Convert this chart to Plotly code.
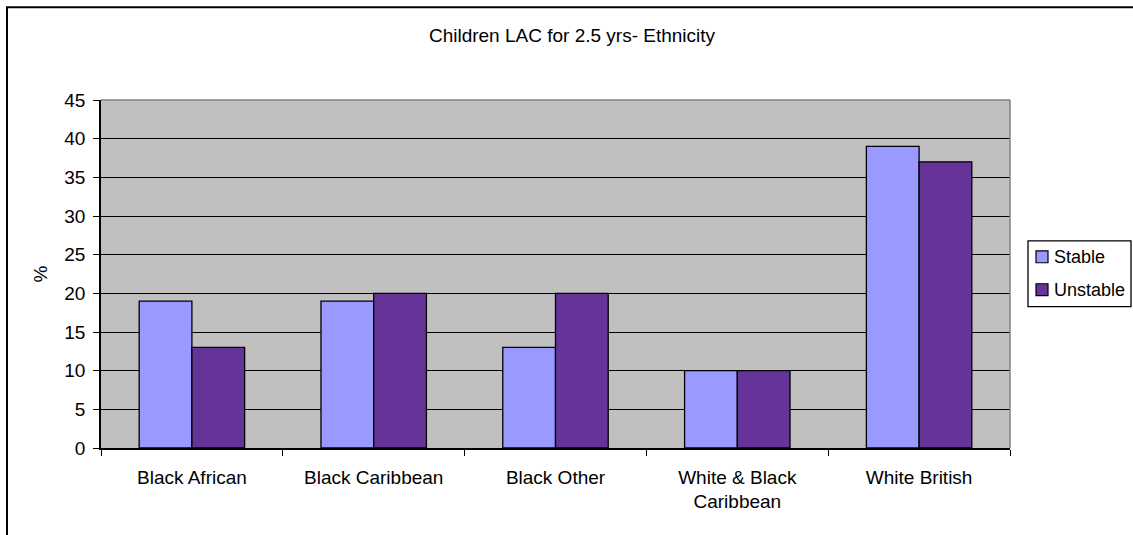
import plotly.graph_objects as go

# Ethnic groups and the share (%) of children in each placement group
categories = ["Black African", "Black Caribbean", "Black Other",
              "White & Black<br>Caribbean", "White British"]
stable = [19, 19, 13, 10, 39]
unstable = [13, 20, 20, 10, 37]
y_ticks = [0, 5, 10, 15, 20, 25, 30, 35, 40, 45]

series = [("Stable", stable, "#9999FF"), ("Unstable", unstable, "#663399")]

FONT = "Liberation Sans, Arial, sans-serif"

fig = go.Figure()
for name, vals, color in series:
    fig.add_trace(go.Bar(
        name=name, x=categories, y=vals, showlegend=False,
        marker=dict(color=color, line=dict(color="#000000", width=1.3)),
    ))

# plot-area edges in pixels, converted to paper fractions for frame/legend shapes
L, R, T, B = 101, 1010, 100, 448.5
W, H = R - L, B - T
px = lambda x: (x - L) / W
py = lambda y: (B - y) / H

shapes = [
    # chart frame
    dict(type="rect", xref="paper", yref="paper",
         x0=px(7), x1=px(1150), y0=py(7), y1=py(560),
         line=dict(color="#000000", width=2), layer="above"),
    # grey plot-area border (top and right)
    dict(type="line", xref="paper", yref="paper", x0=0, x1=1, y0=1, y1=1,
         line=dict(color="#808080", width=1.5), layer="above"),
    dict(type="line", xref="paper", yref="paper", x0=1, x1=1, y0=0, y1=1,
         line=dict(color="#808080", width=1.5), layer="above"),
    # legend box
    dict(type="rect", xref="paper", yref="paper",
         x0=px(1028), x1=px(1131), y0=py(241), y1=py(307),
         line=dict(color="#000000", width=1.3), fillcolor="white", layer="above"),
]
annotations = []
for i, (name, vals, color) in enumerate(series):
    yc = 257 + i * 33
    shapes.append(dict(type="rect", xref="paper", yref="paper",
                       x0=px(1036), x1=px(1048), y0=py(yc - 6), y1=py(yc + 6),
                       line=dict(color="#000000", width=1.2), fillcolor=color,
                       layer="above"))
    annotations.append(dict(text=name, xref="paper", yref="paper",
                            x=px(1052), y=py(yc), xanchor="left", yanchor="middle",
                            showarrow=False,
                            font=dict(family=FONT, size=18, color="#000000")))

fig.update_layout(
    width=1133, height=535,
    margin=dict(l=L, r=1133 - R, t=T, b=535 - B),
    paper_bgcolor="white",
    plot_bgcolor="#C0C0C0",
    font=dict(family=FONT, size=19, color="#000000"),
    title=dict(text="Children LAC for 2.5 yrs- Ethnicity", x=px(572), xanchor="center",
               xref="paper", y=1 - 35 / 535, yanchor="middle",
               font=dict(family=FONT, size=19, color="#000000")),
    barmode="group", bargap=0.42, bargroupgap=0,
    showlegend=False,
    shapes=shapes,
    annotations=annotations,
)

fig.update_xaxes(
    type="category", showline=True, linecolor="#000000", linewidth=1.5,
    ticks="outside", tickson="boundaries", ticklen=6, tickcolor="#000000",
    tickwidth=1.3, showgrid=False, ticklabelstandoff=11,
    tickfont=dict(family=FONT, size=19, color="#000000"),
)
fig.update_yaxes(
    range=[0, 45], tickvals=y_ticks, showline=True, linecolor="#000000", linewidth=1.5,
    ticks="outside", ticklen=6, tickcolor="#000000", tickwidth=1.3,
    showgrid=True, gridcolor="#000000", gridwidth=1.3, zeroline=False,
    tickfont=dict(family=FONT, size=19, color="#000000"), ticklabelstandoff=4,
    title=dict(text="%", standoff=12, font=dict(family=FONT, size=19, color="#000000")),
)

fig.write_html("out.html")
